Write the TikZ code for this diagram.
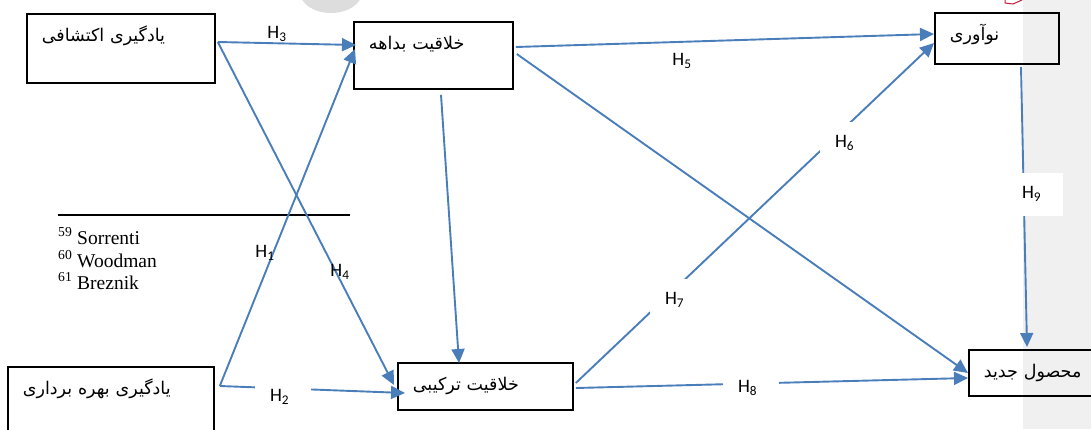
\documentclass[tikz,border=0pt]{standalone}
\usepackage{fontspec}
\usetikzlibrary{arrows.meta, calc}
\TeXXeTstate=1
\newfontfamily\fafont[Script=Arabic]{DejaVu Sans}
\newfontfamily\hfont{Carlito}
\newfontfamily\fnfont{Liberation Serif}
\definecolor{arrowblue}{RGB}{74,126,187}
\definecolor{bandgray}{RGB}{240,240,240}
\definecolor{markgray}{RGB}{221,221,221}
\definecolor{markred}{RGB}{200,30,60}

\begin{document}
\begin{tikzpicture}[x=1pt, y=-1pt, >={Triangle[length=14pt,width=13pt]},
    box/.style={draw, line width=1.8pt, anchor=north west, inner xsep=15pt, inner ysep=0pt,
        text height=28pt, align=left, font=\fontsize{17.5}{20}\fafont},
    link/.style={->, arrowblue, line width=1.9pt},
    hyp/.style={font=\fontsize{19}{22}\hfont, inner sep=0pt},
    gap/.style={hyp, fill=white, text width=26pt, inner xsep=15pt, minimum height=43pt, align=left},
    fn/.style={font=\fontsize{19.5}{23}\fnfont, inner sep=0pt, anchor=base west}]
    \clip (0,0) rectangle (1091,429);
    % page background bits
    \fill[bandgray] (1023,0) rectangle (1091,429);
    \fill[markgray] (331,-8) ellipse [x radius=31, y radius=21];
    \draw[markred, line width=1pt] (1005,0) -- (1005,3) -- (1013,4) -- (1022,0);
    % footnotes
    \draw[line width=1.6pt] (58,215) -- (350,215);
    \node[fn] (fn1) at (58,244) {\textsuperscript{59} Sorrenti};
    \node[fn] (fn2) at (58,267) {\textsuperscript{60} Woodman};
    \node[fn] (fn3) at (58,289) {\textsuperscript{61} Breznik};
    % boxes
    \node[box, text width=158pt, text depth=41pt] (explore) at (26,13) {\beginR یادگیری اکتشافی\endR};
    \node[box, text width=129pt, text depth=39pt] (impro) at (353,21) {\beginR خلاقیت بداهه\endR};
    \node[box, text width=94pt, text depth=23pt] (innov) at (934,12) {\beginR نوآوری\endR};
    \node[box, text width=176pt, text depth=41pt] (exploit) at (7,366) {\beginR یادگیری بهره برداری\endR};
    \node[box, text width=145pt, text depth=19pt] (combin) at (397,362) {\beginR خلاقیت ترکیبی\endR};
    \node[box, text width=100pt, text depth=18pt] (newprod) at (968,349) {\beginR محصول جدید\endR};
    % links
    \draw[link] ($(explore.north east)+(2,29)$) -- ($(impro.north west)+(3,24)$);
    \draw[link] ($(explore.north east)+(2,29)$) -- ($(combin.north west)+(-3,23)$);
    \draw[link] ($(exploit.north east)+(5,20)$) -- ($(impro.north west)+(2,28)$);
    \draw[link] ($(exploit.north east)+(5,20)$) -- ($(combin.north west)+(8,31)$);
    \draw[link] ($(impro.south west)+(88,5)$) -- ($(combin.north west)+(62,1)$);
    \draw[link] ($(impro.north east)+(2,26)$) -- ($(innov.north west)+(0,22)$);
    \draw[link] ($(impro.north east)+(3,33)$) -- ($(newprod.north west)+(0,24)$);
    \draw[link] ($(combin.north east)+(2,21)$) -- ($(innov.north west)+(0,31)$);
    \draw[link] ($(combin.north east)+(2,26)$) -- ($(newprod.north west)+(0,29)$);
    \draw[link] ($(innov.south west)+(87,2)$) -- ($(newprod.north west)+(59,-2)$);
    % hypotheses
    \node[hyp] (h1) at (265,253) {H\textsubscript{1}};
    \node[gap] (h2) at (283,397) {H\textsubscript{2}};
    \node[hyp] (h3) at (277,34) {H\textsubscript{3}};
    \node[hyp] (h4) at (340,272) {H\textsubscript{4}};
    \node[hyp] (h5) at (682,61) {H\textsubscript{5}};
    \node[gap] (h6) at (848,143) {H\textsubscript{6}};
    \node[gap] (h7) at (678,300) {H\textsubscript{7}};
    \node[gap] (h8) at (751,388) {H\textsubscript{8}};
    \node[gap] (h9) at (1035,194) {H\textsubscript{9}};
\end{tikzpicture}
\end{document}
